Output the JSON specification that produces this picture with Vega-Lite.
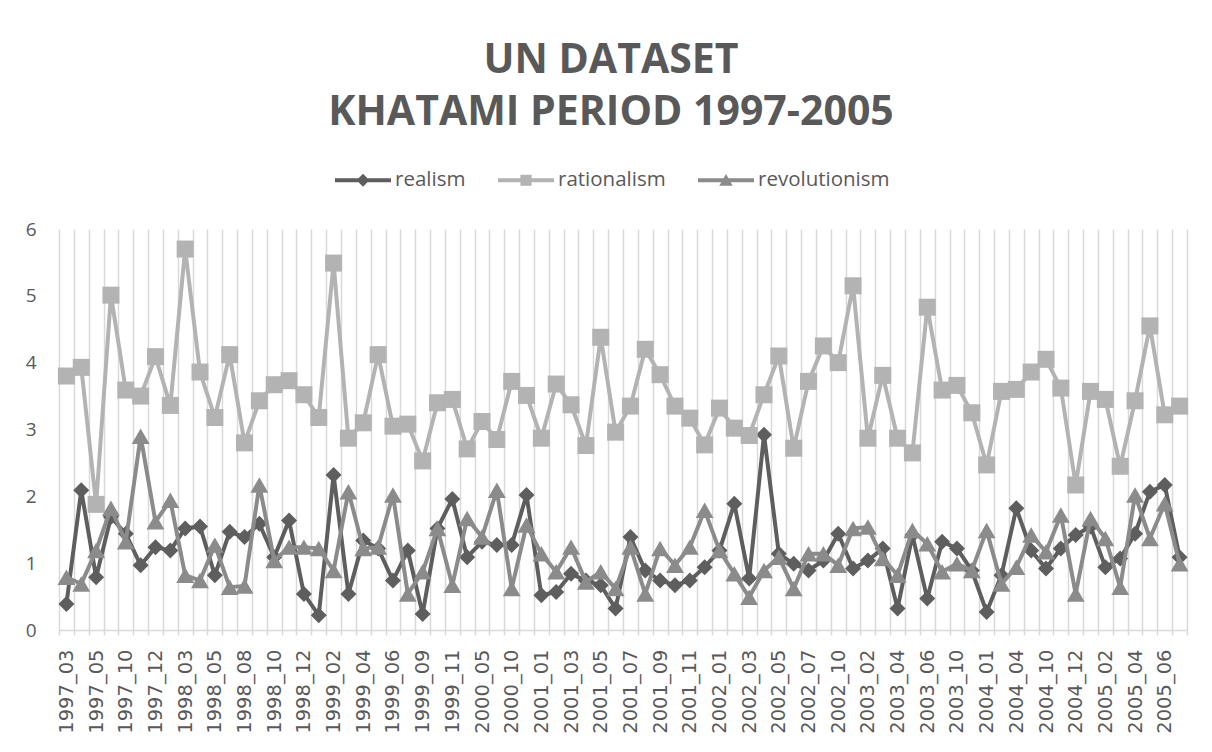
{
  "$schema": "https://vega.github.io/schema/vega-lite/v6.json",
  "width": 1128,
  "height": 401,
  "autosize": {"type": "none"},
  "padding": {"left": 59, "top": 229, "right": 25, "bottom": 122},
  "background": "white",
  "title": {
    "text": ["UN DATASET", "KHATAMI PERIOD 1997-2005"],
    "font": "Open Sans",
    "fontSize": 41,
    "fontWeight": "bold",
    "color": "#595959",
    "lineHeight": 52,
    "anchor": "middle",
    "offset": 18,
    "dx": -12
  },
  "config": {"view": {"stroke": null}},
  "data": {
    "values": [
      {"m": "1997_03", "realism": 0.39, "rationalism": 3.80, "revolutionism": 0.79},
      {"m": "1997_04", "realism": 2.09, "rationalism": 3.93, "revolutionism": 0.69},
      {"m": "1997_05", "realism": 0.79, "rationalism": 1.88, "revolutionism": 1.19},
      {"m": "1997_07", "realism": 1.69, "rationalism": 5.01, "revolutionism": 1.82},
      {"m": "1997_10", "realism": 1.44, "rationalism": 3.59, "revolutionism": 1.32},
      {"m": "1997_11", "realism": 0.97, "rationalism": 3.50, "revolutionism": 2.90},
      {"m": "1997_12", "realism": 1.24, "rationalism": 4.09, "revolutionism": 1.62},
      {"m": "1998_02", "realism": 1.19, "rationalism": 3.36, "revolutionism": 1.94},
      {"m": "1998_03", "realism": 1.52, "rationalism": 5.70, "revolutionism": 0.82},
      {"m": "1998_04", "realism": 1.55, "rationalism": 3.86, "revolutionism": 0.74},
      {"m": "1998_05", "realism": 0.82, "rationalism": 3.18, "revolutionism": 1.27},
      {"m": "1998_06", "realism": 1.47, "rationalism": 4.12, "revolutionism": 0.64},
      {"m": "1998_08", "realism": 1.39, "rationalism": 2.80, "revolutionism": 0.66},
      {"m": "1998_09", "realism": 1.59, "rationalism": 3.43, "revolutionism": 2.17},
      {"m": "1998_10", "realism": 1.09, "rationalism": 3.67, "revolutionism": 1.04},
      {"m": "1998_11", "realism": 1.64, "rationalism": 3.73, "revolutionism": 1.24},
      {"m": "1998_12", "realism": 0.54, "rationalism": 3.52, "revolutionism": 1.24},
      {"m": "1999_01", "realism": 0.22, "rationalism": 3.18, "revolutionism": 1.22},
      {"m": "1999_02", "realism": 2.32, "rationalism": 5.49, "revolutionism": 0.89},
      {"m": "1999_03", "realism": 0.54, "rationalism": 2.87, "revolutionism": 2.07},
      {"m": "1999_04", "realism": 1.34, "rationalism": 3.10, "revolutionism": 1.22},
      {"m": "1999_05", "realism": 1.22, "rationalism": 4.12, "revolutionism": 1.24},
      {"m": "1999_06", "realism": 0.74, "rationalism": 3.05, "revolutionism": 2.02},
      {"m": "1999_07", "realism": 1.19, "rationalism": 3.08, "revolutionism": 0.54},
      {"m": "1999_09", "realism": 0.24, "rationalism": 2.53, "revolutionism": 0.87},
      {"m": "1999_10", "realism": 1.52, "rationalism": 3.40, "revolutionism": 1.52},
      {"m": "1999_11", "realism": 1.96, "rationalism": 3.45, "revolutionism": 0.67},
      {"m": "2000_02", "realism": 1.09, "rationalism": 2.71, "revolutionism": 1.67},
      {"m": "2000_05", "realism": 1.32, "rationalism": 3.12, "revolutionism": 1.39},
      {"m": "2000_07", "realism": 1.27, "rationalism": 2.85, "revolutionism": 2.09},
      {"m": "2000_10", "realism": 1.27, "rationalism": 3.72, "revolutionism": 0.62},
      {"m": "2000_12", "realism": 2.02, "rationalism": 3.51, "revolutionism": 1.57},
      {"m": "2001_01", "realism": 0.52, "rationalism": 2.87, "revolutionism": 1.14},
      {"m": "2001_02", "realism": 0.57, "rationalism": 3.68, "revolutionism": 0.87},
      {"m": "2001_03", "realism": 0.84, "rationalism": 3.37, "revolutionism": 1.24},
      {"m": "2001_04", "realism": 0.74, "rationalism": 2.76, "revolutionism": 0.72},
      {"m": "2001_05", "realism": 0.67, "rationalism": 4.38, "revolutionism": 0.87},
      {"m": "2001_06", "realism": 0.32, "rationalism": 2.96, "revolutionism": 0.62},
      {"m": "2001_07", "realism": 1.39, "rationalism": 3.35, "revolutionism": 1.24},
      {"m": "2001_08", "realism": 0.89, "rationalism": 4.20, "revolutionism": 0.54},
      {"m": "2001_09", "realism": 0.74, "rationalism": 3.82, "revolutionism": 1.22},
      {"m": "2001_10", "realism": 0.67, "rationalism": 3.35, "revolutionism": 0.97},
      {"m": "2001_11", "realism": 0.74, "rationalism": 3.17, "revolutionism": 1.24},
      {"m": "2001_12", "realism": 0.94, "rationalism": 2.77, "revolutionism": 1.79},
      {"m": "2002_01", "realism": 1.19, "rationalism": 3.32, "revolutionism": 1.19},
      {"m": "2002_02", "realism": 1.89, "rationalism": 3.02, "revolutionism": 0.84},
      {"m": "2002_03", "realism": 0.77, "rationalism": 2.91, "revolutionism": 0.49},
      {"m": "2002_04", "realism": 2.92, "rationalism": 3.52, "revolutionism": 0.89},
      {"m": "2002_05", "realism": 1.14, "rationalism": 4.10, "revolutionism": 1.09},
      {"m": "2002_06", "realism": 0.99, "rationalism": 2.72, "revolutionism": 0.62},
      {"m": "2002_07", "realism": 0.89, "rationalism": 3.72, "revolutionism": 1.14},
      {"m": "2002_09", "realism": 1.04, "rationalism": 4.25, "revolutionism": 1.14},
      {"m": "2002_10", "realism": 1.44, "rationalism": 4.00, "revolutionism": 0.97},
      {"m": "2002_12", "realism": 0.92, "rationalism": 5.15, "revolutionism": 1.52},
      {"m": "2003_02", "realism": 1.04, "rationalism": 2.87, "revolutionism": 1.54},
      {"m": "2003_03", "realism": 1.22, "rationalism": 3.81, "revolutionism": 1.07},
      {"m": "2003_04", "realism": 0.32, "rationalism": 2.87, "revolutionism": 0.82},
      {"m": "2003_05", "realism": 1.42, "rationalism": 2.65, "revolutionism": 1.49},
      {"m": "2003_06", "realism": 0.47, "rationalism": 4.83, "revolutionism": 1.29},
      {"m": "2003_08", "realism": 1.32, "rationalism": 3.59, "revolutionism": 0.87},
      {"m": "2003_10", "realism": 1.22, "rationalism": 3.66, "revolutionism": 0.99},
      {"m": "2003_12", "realism": 0.89, "rationalism": 3.25, "revolutionism": 0.89},
      {"m": "2004_01", "realism": 0.27, "rationalism": 2.47, "revolutionism": 1.49},
      {"m": "2004_02", "realism": 0.82, "rationalism": 3.57, "revolutionism": 0.69},
      {"m": "2004_04", "realism": 1.82, "rationalism": 3.60, "revolutionism": 0.94},
      {"m": "2004_07", "realism": 1.19, "rationalism": 3.86, "revolutionism": 1.42},
      {"m": "2004_10", "realism": 0.92, "rationalism": 4.05, "revolutionism": 1.17},
      {"m": "2004_11", "realism": 1.22, "rationalism": 3.62, "revolutionism": 1.72},
      {"m": "2004_12", "realism": 1.42, "rationalism": 2.17, "revolutionism": 0.54},
      {"m": "2005_01", "realism": 1.55, "rationalism": 3.57, "revolutionism": 1.67},
      {"m": "2005_02", "realism": 0.94, "rationalism": 3.45, "revolutionism": 1.37},
      {"m": "2005_03", "realism": 1.07, "rationalism": 2.45, "revolutionism": 0.64},
      {"m": "2005_04", "realism": 1.44, "rationalism": 3.43, "revolutionism": 2.02},
      {"m": "2005_05", "realism": 2.07, "rationalism": 4.55, "revolutionism": 1.37},
      {"m": "2005_06", "realism": 2.17, "rationalism": 3.22, "revolutionism": 1.89},
      {"m": "2005_07", "realism": 1.09, "rationalism": 3.35, "revolutionism": 0.99}
    ]
  },
  "transform": [
    {"fold": ["realism", "rationalism", "revolutionism"], "as": ["series", "value"]}
  ],
  "encoding": {
    "x": {
      "field": "m",
      "type": "ordinal",
      "scale": {
        "type": "band",
        "paddingInner": 0,
        "paddingOuter": 0,
        "domain": ["1997_03","1997_04","1997_05","1997_07","1997_10","1997_11","1997_12","1998_02","1998_03","1998_04","1998_05","1998_06","1998_08","1998_09","1998_10","1998_11","1998_12","1999_01","1999_02","1999_03","1999_04","1999_05","1999_06","1999_07","1999_09","1999_10","1999_11","2000_02","2000_05","2000_07","2000_10","2000_12","2001_01","2001_02","2001_03","2001_04","2001_05","2001_06","2001_07","2001_08","2001_09","2001_10","2001_11","2001_12","2002_01","2002_02","2002_03","2002_04","2002_05","2002_06","2002_07","2002_09","2002_10","2002_12","2003_02","2003_03","2003_04","2003_05","2003_06","2003_08","2003_10","2003_12","2004_01","2004_02","2004_04","2004_07","2004_10","2004_11","2004_12","2005_01","2005_02","2005_03","2005_04","2005_05","2005_06","2005_07"]
      },
      "axis": {
        "title": null,
        "tickBand": "extent",
        "grid": true,
        "gridColor": "#d9d9d9",
        "gridWidth": 1.5,
        "domainColor": "#d9d9d9",
        "domainWidth": 1.5,
        "ticks": true,
        "tickColor": "#d9d9d9",
        "tickWidth": 1.5,
        "tickSize": 5,
        "labelAngle": 270,
        "labelFont": "DejaVu Sans",
        "labelFontSize": 19.5,
        "labelColor": "#595959",
        "labelPadding": 14,
        "labelOverlap": false,
        "labelBound": false,
        "labelExpr": "indexof(domain('x'), datum.value) % 2 === 0 ? datum.label : ''"
      }
    },
    "y": {
      "field": "value",
      "type": "quantitative",
      "scale": {"domain": [0, 6], "nice": false, "zero": true},
      "axis": {
        "title": null,
        "values": [0, 1, 2, 3, 4, 5, 6],
        "domain": false,
        "ticks": false,
        "grid": false,
        "labelFont": "Open Sans",
        "labelFontSize": 19,
        "labelColor": "#595959",
        "labelPadding": 23
      }
    },
    "color": {
      "field": "series",
      "type": "nominal",
      "scale": {
        "domain": ["realism", "rationalism", "revolutionism"],
        "range": ["#5e5e5e", "#b3b3b3", "#8b8b8b"]
      },
      "legend": {
        "title": null,
        "orient": "none",
        "legendX": 276,
        "legendY": -77,
        "direction": "horizontal",
        "padding": 0,
        "symbolSize": 3136,
        "symbolStrokeWidth": 0,
        "labelFont": "Open Sans",
        "labelFontSize": 20.5,
        "labelColor": "#595959",
        "labelOffset": 4,
        "columnPadding": 32,
        "encode": {
          "symbols": {
            "update": {
              "shape": {"signal": "datum.value === 'realism' ? 'M-1,-0.07H1V0.07H-1Z M0,-0.23L0.23,0L0,0.23L-0.23,0Z' : datum.value === 'rationalism' ? 'M-1,-0.07H1V0.07H-1Z M-0.2,-0.2H0.2V0.2H-0.2Z' : 'M-1,-0.07H1V0.07H-1Z M0,-0.22L0.24,0.2H-0.24Z'"},
              "fill": {"scale": "color", "field": "value"},
              "strokeWidth": {"value": 0},
              "opacity": {"value": 1}
            }
          }
        }
      }
    }
  },
  "layer": [
    {"transform": [{"filter": "datum.series === 'realism'"}], "mark": {"type": "line", "strokeWidth": 4}},
    {"transform": [{"filter": "datum.series === 'realism'"}], "mark": {"type": "point", "shape": "diamond", "filled": true, "size": 256, "opacity": 1}},
    {"transform": [{"filter": "datum.series === 'rationalism'"}], "mark": {"type": "line", "strokeWidth": 4}},
    {"transform": [{"filter": "datum.series === 'rationalism'"}], "mark": {"type": "point", "shape": "square", "filled": true, "size": 289, "opacity": 1}},
    {"transform": [{"filter": "datum.series === 'revolutionism'"}], "mark": {"type": "line", "strokeWidth": 4}},
    {"transform": [{"filter": "datum.series === 'revolutionism'"}], "mark": {"type": "point", "shape": "triangle-up", "filled": true, "size": 320, "opacity": 1}}
  ]
}
